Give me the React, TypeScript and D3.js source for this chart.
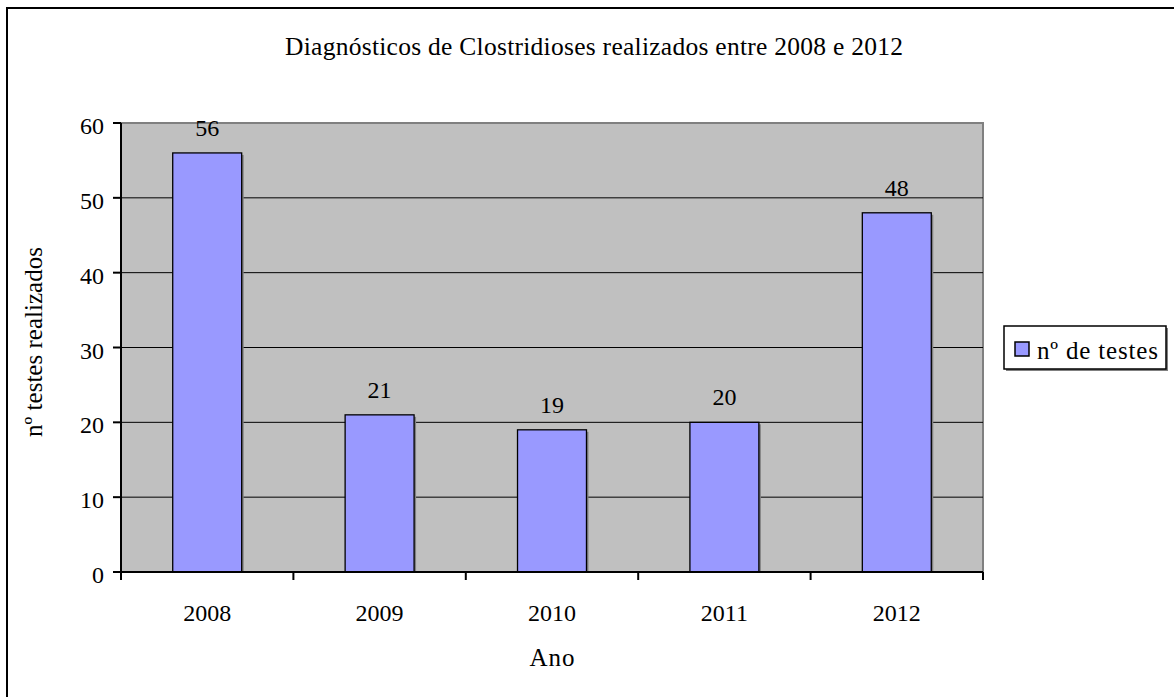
import React from "react";
import * as d3 from "d3";

const years: string[] = ["2008", "2009", "2010", "2011", "2012"];
const tests: number[] = [56, 21, 19, 20, 48];
const yTicks: number[] = [0, 10, 20, 30, 40, 50, 60];
const title = "Diagnósticos de Clostridioses realizados entre 2008 e 2012";
const yLabel = "nº testes realizados";
const xLabel = "Ano";
const legendLabel = "nº de testes";

const W = 1174;
const H = 697;
const plot = { left: 121, right: 983, top: 123, bottom: 572 };
const FONT = "'Liberation Serif', 'Times New Roman', serif";

export default function App() {
  const x = d3
    .scaleBand<string>()
    .domain(years)
    .range([plot.left, plot.right])
    .paddingInner(0.6)
    .paddingOuter(0.3);
  const y = d3.scaleLinear().domain([0, 60]).range([plot.bottom, plot.top]);
  const step = x.step();
  const bounds = d3.range(years.length + 1).map((i) => plot.left + i * step);

  return (
    <svg
      width={W}
      height={H}
      style={{ position: "absolute", left: 0, top: 0, background: "#fff" }}
      fontFamily={FONT}
    >
      <rect x={0} y={0} width={W} height={H} fill="#fff" />
      {/* outer frame */}
      <rect x={7} y={8} width={W + 20} height={H + 20} fill="none" stroke="#000" strokeWidth={2} />

      {/* title */}
      <text x={594} y={55} textAnchor="middle" fontSize={25.5} textLength={618} lengthAdjust="spacing">
        {title}
      </text>

      {/* plot background */}
      <rect
        x={plot.left}
        y={plot.top}
        width={plot.right - plot.left}
        height={plot.bottom - plot.top}
        fill="#C0C0C0"
      />
      {/* top & right gray border */}
      <path
        d={`M${plot.left},${plot.top} H${plot.right} V${plot.bottom}`}
        fill="none"
        stroke="#808080"
        strokeWidth={2}
      />

      {/* gridlines */}
      {yTicks
        .filter((t) => t > 0 && t < 60)
        .map((t) => (
          <line key={t} x1={plot.left} x2={plot.right} y1={y(t)} y2={y(t)} stroke="#000" strokeWidth={1} />
        ))}

      {/* bars */}
      {years.map((yr, i) => (
        <g key={yr}>
          <rect
            x={(x(yr) as number) + 2}
            y={y(tests[i]) + 2}
            width={x.bandwidth()}
            height={plot.bottom - y(tests[i]) - 2}
            fill="#808080"
          />
          <rect
            x={x(yr) as number}
            y={y(tests[i])}
            width={x.bandwidth()}
            height={plot.bottom - y(tests[i])}
            fill="#9999FF"
            stroke="#000"
            strokeWidth={1.3}
          />
          <text
            x={(x(yr) as number) + x.bandwidth() / 2}
            y={y(tests[i]) - 17}
            textAnchor="middle"
            fontSize={24}
          >
            {tests[i]}
          </text>
        </g>
      ))}

      {/* axes */}
      <line x1={plot.left} x2={plot.left} y1={plot.top} y2={plot.bottom} stroke="#000" strokeWidth={2} />
      <line x1={plot.left} x2={plot.right} y1={plot.bottom} y2={plot.bottom} stroke="#000" strokeWidth={2} />
      {yTicks.map((t) => (
        <g key={t}>
          <line x1={plot.left - 8} x2={plot.left} y1={y(t)} y2={y(t)} stroke="#000" strokeWidth={2} />
          <text x={104} y={y(t) + 11} textAnchor="end" fontSize={24}>
            {t}
          </text>
        </g>
      ))}
      {bounds.map((bx, i) => (
        <line key={i} x1={bx} x2={bx} y1={plot.bottom} y2={plot.bottom + 8} stroke="#000" strokeWidth={2} />
      ))}
      {years.map((yr) => (
        <text key={yr} x={(x(yr) as number) + x.bandwidth() / 2} y={621} textAnchor="middle" fontSize={24}>
          {yr}
        </text>
      ))}

      {/* axis titles */}
      <text x={552} y={666} textAnchor="middle" fontSize={25} textLength={45} lengthAdjust="spacing">
        {xLabel}
      </text>
      <text
        transform={`translate(42,342) rotate(-90)`}
        textAnchor="middle"
        fontSize={25}
        textLength={190}
        lengthAdjust="spacing"
      >
        {yLabel}
      </text>

      {/* legend */}
      <rect x={1006} y={328} width={162} height={43} fill="#808080" />
      <rect x={1004} y={326} width={162} height={43} fill="#fff" stroke="#000" strokeWidth={1.5} />
      <rect x={1015} y={342} width={14} height={14} fill="#9999FF" stroke="#000" strokeWidth={1.5} />
      <text x={1037} y={359} fontSize={25} textLength={121} lengthAdjust="spacing">
        {legendLabel}
      </text>
    </svg>
  );
}
